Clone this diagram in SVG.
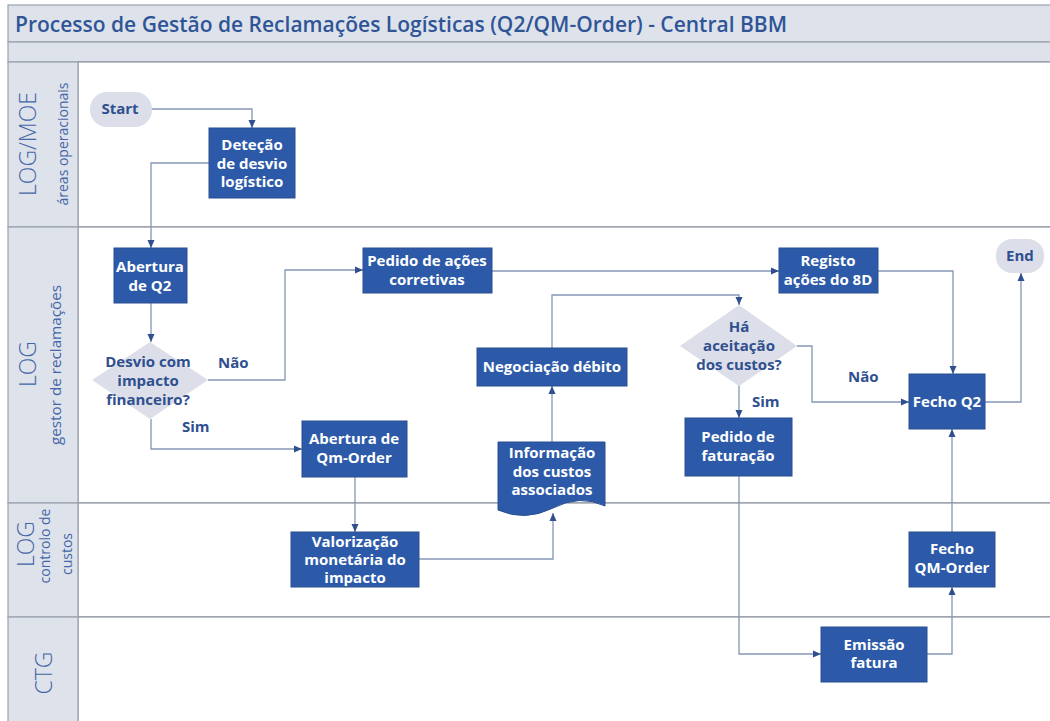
<svg xmlns="http://www.w3.org/2000/svg" width="1050" height="721" viewBox="0 0 1050 721">
<style>
.band{fill:#dee2eb;stroke:#9aa1ad;stroke-width:1.2}
.lane{fill:#ffffff;stroke:#8d939e;stroke-width:1.2}
.title{font-family:"Open Sans","Noto Sans",sans-serif;font-weight:600;font-size:22px;fill:#2f5597}
.lanebig{font-family:"Open Sans","Noto Sans",sans-serif;font-weight:300;font-size:23px;fill:#4466a8}
.lanesmall{font-family:"Open Sans","Noto Sans",sans-serif;font-weight:400;font-size:14px;fill:#4466a8}
.box{fill:#2c5aa8;stroke:#2a4f92;stroke-width:1}
.pill{fill:#dcdfe9}
.dia{fill:#dcdfe9}
.wt{font-family:"Open Sans","Noto Sans",sans-serif;font-weight:700;font-size:15px;fill:#ffffff;text-anchor:middle}
.dt{font-family:"Open Sans","Noto Sans",sans-serif;font-weight:700;font-size:15px;fill:#2f4f8f;text-anchor:middle}
.lbl{font-family:"Open Sans","Noto Sans",sans-serif;font-weight:700;font-size:15px;fill:#2f4f8f}
.conn{fill:none;stroke:#8596b6;stroke-width:1.3;marker-end:url(#arr)}
</style>
<defs>
<marker id="arr" markerUnits="userSpaceOnUse" markerWidth="10" markerHeight="10" viewBox="0 0 10 10" refX="9" refY="5" orient="auto">
<path d="M1,1.5 L9,5 L1,8.5 Z" fill="#2f4f8f"/>
</marker>
</defs>

<rect class="band" x="8" y="5" width="1050" height="37"/>
<rect class="band" x="8" y="42" width="1050" height="20"/>
<text class="title" x="15" y="32" textLength="772" lengthAdjust="spacingAndGlyphs">Processo de Gestão de Reclamações Logísticas (Q2/QM-Order) - Central BBM</text>

<g id="lanes">
<rect class="lane" x="78" y="62" width="980" height="165"/>
<rect class="lane" x="78" y="227" width="980" height="276"/>
<rect class="lane" x="78" y="503" width="980" height="114"/>
<rect class="lane" x="78" y="617" width="980" height="110"/>
<rect class="band" x="8" y="62" width="70" height="165"/>
<rect class="band" x="8" y="227" width="70" height="276"/>
<rect class="band" x="8" y="503" width="70" height="114"/>
<rect class="band" x="8" y="617" width="70" height="110"/>
<text class="lanebig" transform="translate(36,144) rotate(-90)" text-anchor="middle">LOG/MOE</text>
<text class="lanesmall" transform="translate(68,144) rotate(-90)" text-anchor="middle">áreas operacionais</text>
<text class="lanebig" transform="translate(36,364) rotate(-90)" text-anchor="middle">LOG</text>
<text class="lanesmall" transform="translate(61,365) rotate(-90)" text-anchor="middle" textLength="160" lengthAdjust="spacingAndGlyphs">gestor de reclamações</text>
<text class="lanebig" transform="translate(34,544) rotate(-90)" text-anchor="middle">LOG</text>
<text class="lanesmall" transform="translate(50,546) rotate(-90)" text-anchor="middle">controlo de</text>
<text class="lanesmall" transform="translate(72,554) rotate(-90)" text-anchor="middle">custos</text>
<text class="lanebig" transform="translate(52,673) rotate(-90)" text-anchor="middle">CTG</text>
</g>

<g id="connectors">
<path class="conn" d="M152,109 H252 V128"/>
<path class="conn" d="M209,163 H151 V248"/>
<path class="conn" d="M151,303 V342"/>
<path class="conn" d="M208,380 H285 V270 H363"/>
<path class="conn" d="M151,419 V449 H302"/>
<path class="conn" d="M492,271 H779"/>
<path class="conn" d="M878,271 H953 V374"/>
<path class="conn" d="M355,477 V532"/>
<path class="conn" d="M419,559 H553 V513"/>
<path class="conn" d="M552,442 V386"/>
<path class="conn" d="M552,348 V295 H739 V305"/>
<path class="conn" d="M797,346 H812 V402 H909"/>
<path class="conn" d="M739,385 V418"/>
<path class="conn" d="M739,476 V654 H821"/>
<path class="conn" d="M927,654 H952 V587"/>
<path class="conn" d="M952,532 V429"/>
<path class="conn" d="M985,402 H1021 V273"/>
</g>

<g id="lbl-nao1"><text class="lbl" x="218" y="368">Não</text></g>
<g id="lbl-sim1"><text class="lbl" x="182" y="432">Sim</text></g>
<g id="lbl-nao2"><text class="lbl" x="848" y="382">Não</text></g>
<g id="lbl-sim2"><text class="lbl" x="752" y="407">Sim</text></g>

<g id="start">
<rect class="pill" x="90" y="92" width="62" height="35" rx="17"/>
<text class="dt" x="120" y="114">Start</text>
</g>
<g id="detecao">
<rect class="box" x="209" y="128" width="86" height="70"/>
<text class="wt" x="252" y="150">Deteção</text>
<text class="wt" x="252" y="169">de desvio</text>
<text class="wt" x="252" y="187">logístico</text>
</g>
<g id="abertura-q2">
<rect class="box" x="114" y="248" width="73" height="55"/>
<text class="wt" x="150" y="272">Abertura</text>
<text class="wt" x="150" y="291">de Q2</text>
</g>
<g id="desvio">
<polygon class="dia" points="150,342 208,380 150,419 92,380"/>
<text class="dt" x="148" y="367">Desvio com</text>
<text class="dt" x="148" y="386">impacto</text>
<text class="dt" x="148" y="405">financeiro?</text>
</g>
<g id="pedido-acoes">
<rect class="box" x="363" y="248" width="129" height="45"/>
<text class="wt" x="427" y="266">Pedido de ações</text>
<text class="wt" x="427" y="285">corretivas</text>
</g>
<g id="negociacao">
<rect class="box" x="477" y="348" width="150" height="38"/>
<text class="wt" x="552" y="372">Negociação débito</text>
</g>
<g id="abertura-qm">
<rect class="box" x="302" y="421" width="105" height="56"/>
<text class="wt" x="354" y="444">Abertura de</text>
<text class="wt" x="354" y="463">Qm-Order</text>
</g>
<g id="informacao">
<path class="box" d="M498,442 H605 V506 Q580,494 553,508 Q525,522 498,510 Z"/>
<text class="wt" x="552" y="458">Informação</text>
<text class="wt" x="552" y="477">dos custos</text>
<text class="wt" x="552" y="495">associados</text>
</g>
<g id="valorizacao">
<rect class="box" x="291" y="532" width="128" height="55"/>
<text class="wt" x="355" y="547">Valorização</text>
<text class="wt" x="355" y="565">monetária do</text>
<text class="wt" x="355" y="583">impacto</text>
</g>
<g id="registo">
<rect class="box" x="779" y="248" width="99" height="45"/>
<text class="wt" x="828" y="266">Registo</text>
<text class="wt" x="828" y="285">ações do 8D</text>
</g>
<g id="end">
<rect class="pill" x="996" y="239" width="48" height="34" rx="16"/>
<text class="dt" x="1020" y="261">End</text>
</g>
<g id="aceitacao">
<polygon class="dia" points="739,305 797,346 739,386 680,346"/>
<text class="dt" x="739" y="332">Há</text>
<text class="dt" x="739" y="351">aceitação</text>
<text class="dt" x="739" y="370">dos custos?</text>
</g>
<g id="pedido-faturacao">
<rect class="box" x="685" y="418" width="107" height="58"/>
<text class="wt" x="738" y="442">Pedido de</text>
<text class="wt" x="738" y="461">faturação</text>
</g>
<g id="fecho-q2">
<rect class="box" x="909" y="374" width="76" height="55"/>
<text class="wt" x="947" y="407">Fecho Q2</text>
</g>
<g id="fecho-qm">
<rect class="box" x="909" y="532" width="86" height="55"/>
<text class="wt" x="952" y="554">Fecho</text>
<text class="wt" x="952" y="573">QM-Order</text>
</g>
<g id="emissao">
<rect class="box" x="821" y="627" width="106" height="55"/>
<text class="wt" x="874" y="650">Emissão</text>
<text class="wt" x="874" y="668">fatura</text>
</g>
</svg>
